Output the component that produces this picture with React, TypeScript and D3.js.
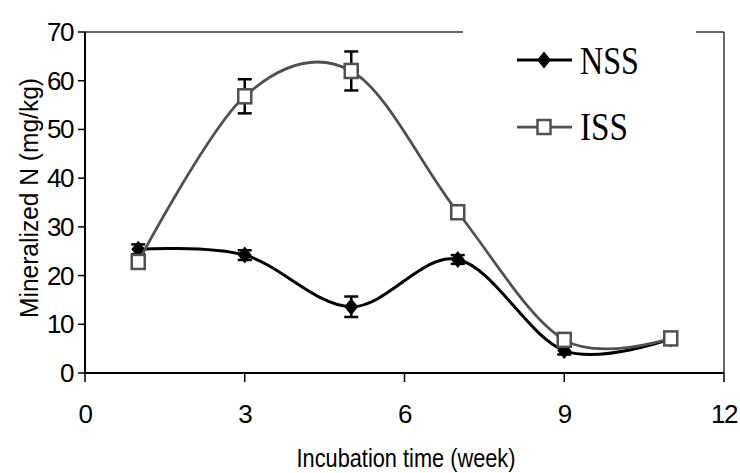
import React from "react";
import * as d3 from "d3";

// Incubation weeks and mineralized N (mg/kg) for the two soils
const weeks = [1, 3, 5, 7, 9, 11];
const nssValues = [25.4, 24.2, 13.6, 23.3, 4.6, 7.0];
const nssErrors = [1.0, 1.0, 2.1, 0.9, 0.8, 0.6];
const issValues = [22.8, 56.8, 62.0, 33.0, 6.8, 7.1];
const issErrors = [0.8, 3.5, 4.0, 0.8, 0.8, 0.6];
const xTicks = [0, 3, 6, 9, 12];
const yTicks = [0, 10, 20, 30, 40, 50, 60, 70];
const seriesNames = ["NSS", "ISS"];

const W = 740;
const H = 473;
const left = 85;
const right = 724;
const top = 32;
const bottom = 373;

const x = d3.scaleLinear().domain([0, 12]).range([left, right]);
const y = d3.scaleLinear().domain([0, 70]).range([bottom, top]);

const NSS_COLOR = "#000000";
const ISS_COLOR = "#505050";

const line = d3
  .line<[number, number]>()
  .x((d) => x(d[0]))
  .y((d) => y(d[1]))
  .curve(d3.curveCardinal.tension(0));

const diamond = (cx: number, cy: number, w = 7, h = 8.5) =>
  `M${cx},${cy - h}L${cx + w},${cy}L${cx},${cy + h}L${cx - w},${cy}Z`;

const sans = "Arial, 'Liberation Sans', sans-serif";
const serif = "'Times New Roman', 'Liberation Serif', serif";

function ErrorBars({ vals, errs }: { vals: number[]; errs: number[] }) {
  return (
    <g stroke="#000" strokeWidth={2.5} fill="none">
      {weeks.map((w, i) => {
        const cx = x(w);
        const y1 = y(vals[i] + errs[i]);
        const y2 = y(vals[i] - errs[i]);
        return (
          <g key={i}>
            <line x1={cx} x2={cx} y1={y1} y2={y2} />
            <line x1={cx - 7} x2={cx + 7} y1={y1} y2={y1} />
            <line x1={cx - 7} x2={cx + 7} y1={y2} y2={y2} />
          </g>
        );
      })}
    </g>
  );
}

export default function App() {
  const nssPts = weeks.map((w, i) => [w, nssValues[i]] as [number, number]);
  const issPts = weeks.map((w, i) => [w, issValues[i]] as [number, number]);

  return (
    <svg
      width={W}
      height={H}
      style={{ position: "absolute", left: 0, top: 0, background: "#fff" }}
    >
      <rect width={W} height={H} fill="#fff" />

      {/* plot frame */}
      <line x1={left} x2={right} y1={top} y2={top} stroke="#333" strokeWidth={1.5} />
      <line x1={right} x2={right} y1={top} y2={bottom} stroke="#333" strokeWidth={1.5} />
      <line x1={left} x2={left} y1={top} y2={bottom} stroke="#000" strokeWidth={2} />
      <line x1={left} x2={right} y1={bottom} y2={bottom} stroke="#000" strokeWidth={2} />

      {/* y axis ticks and labels */}
      {yTicks.map((t) => (
        <g key={t}>
          <line x1={left - 7} x2={left} y1={y(t)} y2={y(t)} stroke="#000" strokeWidth={1.5} />
          <text
            x={73}
            y={y(t) + 9}
            textAnchor="end"
            fontFamily={sans}
            fontSize={26}
            letterSpacing={-1.5}
            fill="#000"
          >
            {t}
          </text>
        </g>
      ))}

      {/* x axis ticks and labels */}
      {xTicks.map((t) => (
        <g key={t}>
          <line x1={x(t)} x2={x(t)} y1={bottom} y2={bottom + 9} stroke="#000" strokeWidth={1.5} />
          <text
            x={x(t)}
            y={423}
            textAnchor="middle"
            fontFamily={sans}
            fontSize={26}
            letterSpacing={-1.5}
            fill="#000"
          >
            {t}
          </text>
        </g>
      ))}

      {/* axis titles */}
      <text
        x={406}
        y={467}
        textAnchor="middle"
        fontFamily={sans}
        fontSize={26}
        textLength={219}
        lengthAdjust="spacingAndGlyphs"
        fill="#000"
      >
        Incubation time (week)
      </text>
      <text
        transform={`translate(38,198) rotate(-90)`}
        textAnchor="middle"
        fontFamily={sans}
        fontSize={25}
        textLength={240}
        lengthAdjust="spacingAndGlyphs"
        fill="#000"
      >
        Mineralized N (mg/kg)
      </text>

      {/* NSS series */}
      <path d={line(nssPts) ?? ""} fill="none" stroke={NSS_COLOR} strokeWidth={3} />
      <ErrorBars vals={nssValues} errs={nssErrors} />
      {nssPts.map((p, i) => (
        <path key={i} d={diamond(x(p[0]), y(p[1]))} fill={NSS_COLOR} />
      ))}

      {/* ISS series */}
      <path d={line(issPts) ?? ""} fill="none" stroke={ISS_COLOR} strokeWidth={2.75} />
      <ErrorBars vals={issValues} errs={issErrors} />
      {issPts.map((p, i) => (
        <rect
          key={i}
          x={x(p[0]) - 6.5}
          y={y(p[1]) - 7}
          width={13}
          height={14}
          fill="#fff"
          stroke={ISS_COLOR}
          strokeWidth={2.5}
        />
      ))}

      {/* legend */}
      <rect x={463} y={20} width={233} height={140} fill="#fff" />
      <line x1={517} x2={572} y1={60} y2={60} stroke={NSS_COLOR} strokeWidth={3} />
      <path d={diamond(544, 60)} fill={NSS_COLOR} />
      <text
        x={580}
        y={74}
        fontFamily={serif}
        fontSize={41}
        textLength={59}
        lengthAdjust="spacingAndGlyphs"
        fill="#000"
      >
        {seriesNames[0]}
      </text>
      <line x1={517} x2={572} y1={127} y2={127} stroke={ISS_COLOR} strokeWidth={2.75} />
      <rect x={537.5} y={120} width={13} height={14} fill="#fff" stroke={ISS_COLOR} strokeWidth={2.5} />
      <text
        x={580}
        y={140}
        fontFamily={serif}
        fontSize={41}
        textLength={48}
        lengthAdjust="spacingAndGlyphs"
        fill="#000"
      >
        {seriesNames[1]}
      </text>
    </svg>
  );
}
